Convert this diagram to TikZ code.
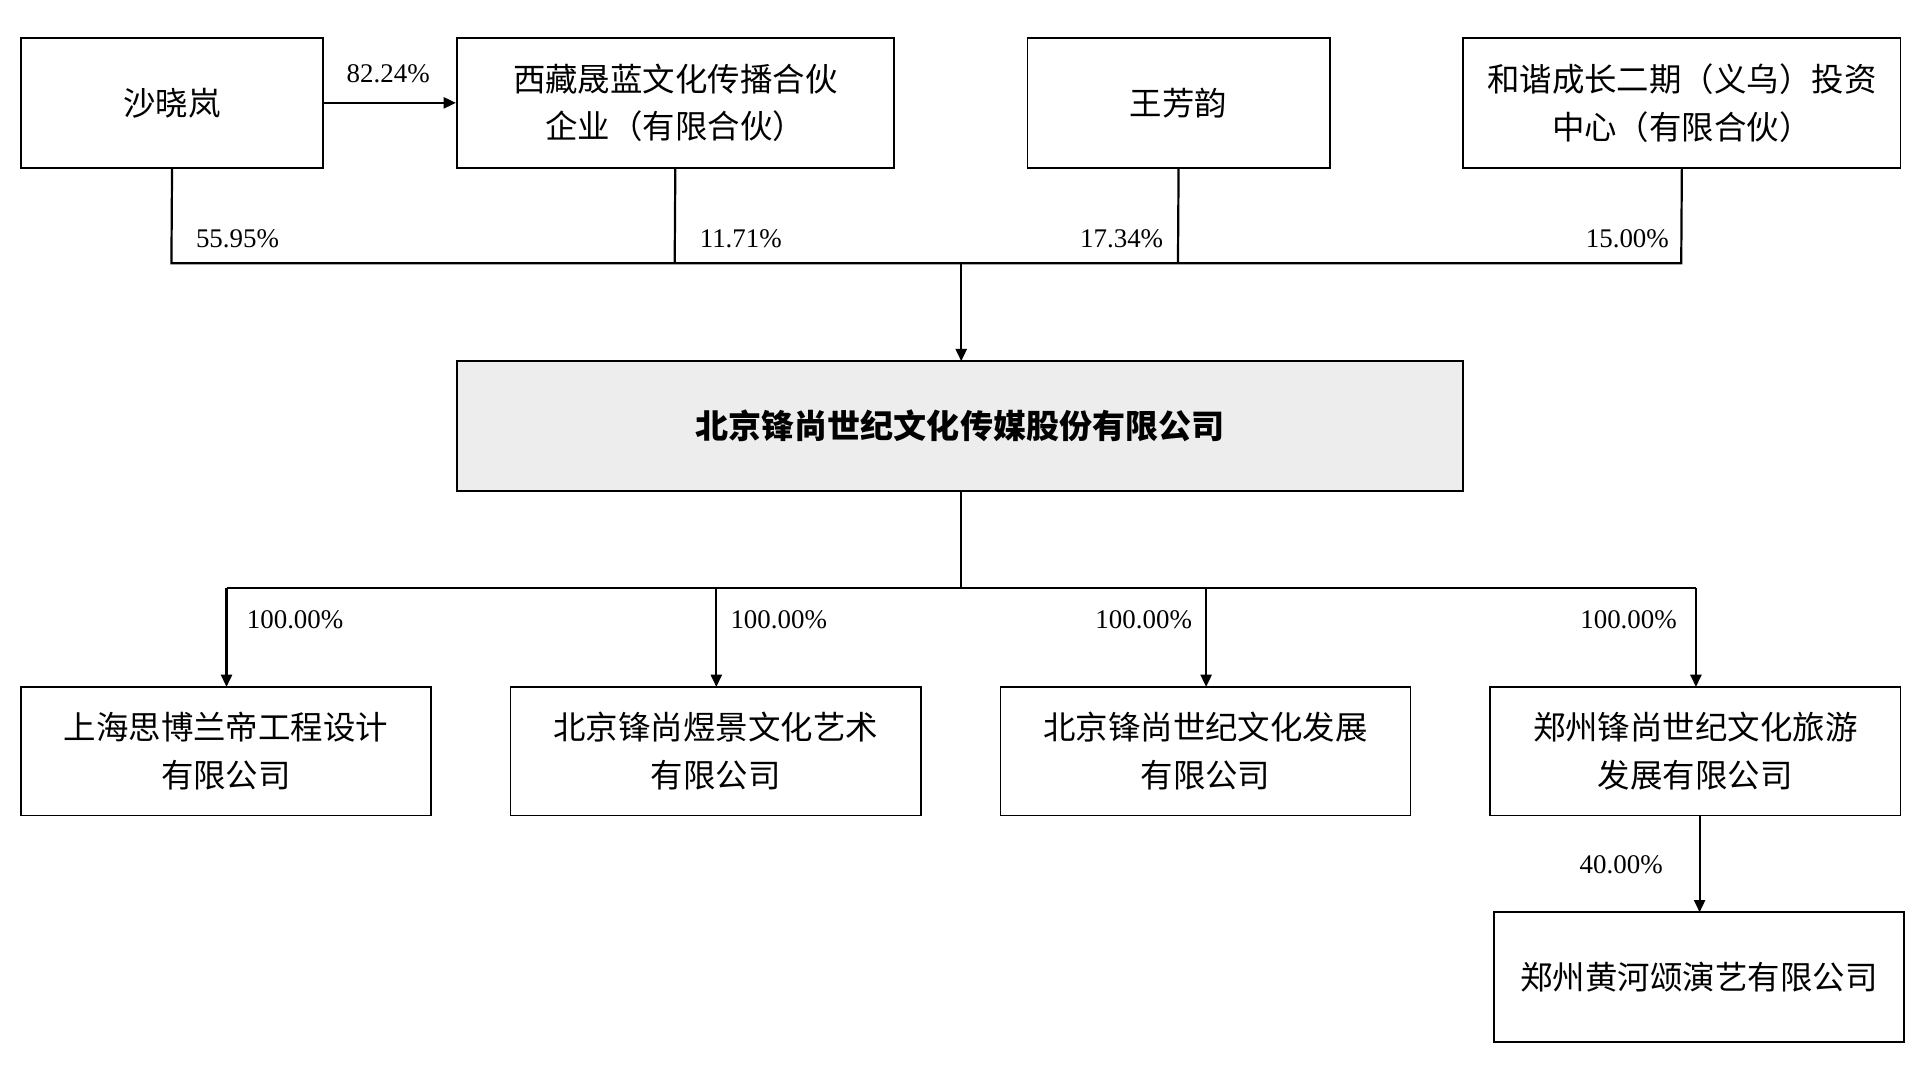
\documentclass[tikz,border=0pt]{standalone}
\usepackage{fontspec}
\setmainfont{Liberation Serif}
\newfontfamily\cjk{Noto Sans CJK SC}
\usetikzlibrary{arrows.meta}
\begin{document}
\begin{tikzpicture}[x=1pt,y=-1pt,
 box/.style={draw,line width=1.3pt,inner sep=0pt,align=center,font=\cjk\fontsize{26.5}{39}\selectfont},
 ln/.style={line width=1.8pt},
 ar/.style={ln,-{Triangle[length=10pt,width=9pt]}},
 pc/.style={font=\fontsize{22}{24}\selectfont}]
\useasboundingbox (0,0) rectangle (1568,871);
\node[box,minimum width=247,minimum height=106] (sha) at (140.5,84) {沙晓岚};
\node[box,minimum width=357,minimum height=106] (xz) at (551.5,84) {西藏晟蓝文化传播合伙\\企业（有限合伙）};
\node[box,minimum width=247,minimum height=106] (wang) at (962.5,84) {王芳韵};
\node[box,minimum width=357,minimum height=106] (hx) at (1373.5,84) {和谐成长二期（义乌）投资\\中心（有限合伙）};
\node[box,fill=black!7,minimum width=822,minimum height=106,font=\cjk\bfseries\fontsize{27}{30}\selectfont] (main) at (784,348) {北京锋尚世纪文化传媒股份有限公司};
\node[box,minimum width=335,minimum height=105] (s1) at (184.5,613.5) {上海思博兰帝工程设计\\有限公司};
\node[box,minimum width=335,minimum height=105] (s2) at (584.5,613.5) {北京锋尚煜景文化艺术\\有限公司};
\node[box,minimum width=335,minimum height=105] (s3) at (984.5,613.5) {北京锋尚世纪文化发展\\有限公司};
\node[box,minimum width=335,minimum height=105] (s4) at (1384.5,613.5) {郑州锋尚世纪文化旅游\\发展有限公司};
\node[box,minimum width=335,minimum height=106] (hh) at (1387.5,798) {郑州黄河颂演艺有限公司};
\coordinate (top) at (785,215);
\coordinate (bot) at (785,480);
\draw[ar] (sha.east) -- (xz.west);
\node[pc] at (317,60) {82.24\%};
\draw[ln] (sha.south) -- (140,215) -- (1373,215) -- (hx.south);
\draw[ln] (xz.south) -- (551,215);
\draw[ln] (wang.south) -- (962,215);
\draw[ar] (top) -- (785,295);
\node[pc] at (194,195) {55.95\%};
\node[pc] at (605,195) {11.71\%};
\node[pc] at (916,195) {17.34\%};
\node[pc] at (1329,195) {15.00\%};
\draw[ln] (785,401) -- (bot);
\draw[ln] (185,480) -- (1385,480);
\draw[ar] (185,480) -- (185,561);
\draw[ar] (585,480) -- (585,561);
\draw[ar] (985,480) -- (985,561);
\draw[ar] (1385,480) -- (1385,561);
\node[pc] at (241,506) {100.00\%};
\node[pc] at (636,506) {100.00\%};
\node[pc] at (934,506) {100.00\%};
\node[pc] at (1330,506) {100.00\%};
\draw[ar] (1388,666) -- (1388,745);
\node[pc] at (1324,706) {40.00\%};
\end{tikzpicture}
\end{document}
